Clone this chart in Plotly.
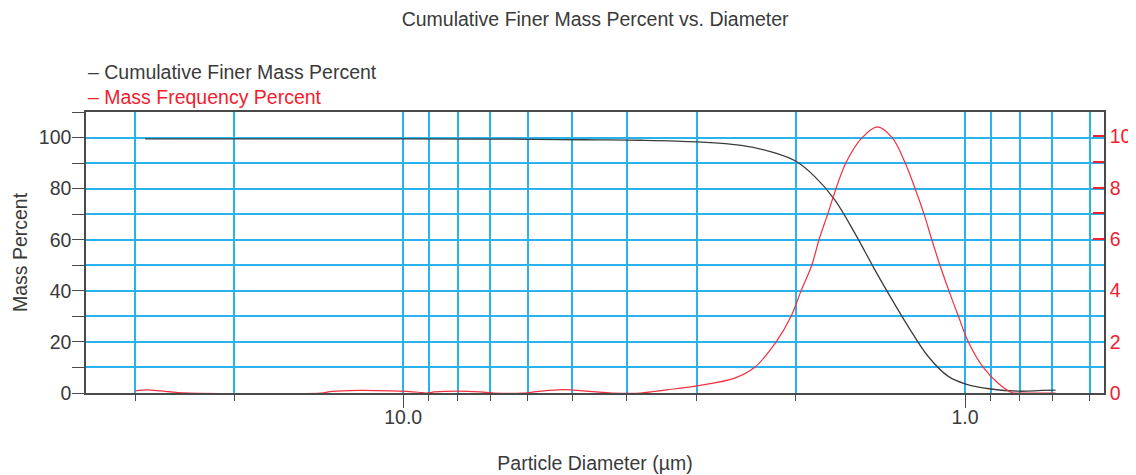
import plotly.graph_objects as go

# ---- data ----
cum_d = [28.8, 20.0, 10.0, 7.0, 5.3, 4.5, 3.78, 3.0, 2.5, 2.18, 2.0, 1.853, 1.707,
         1.572, 1.448, 1.371, 1.263, 1.163, 1.071, 1.0, 0.9, 0.8, 0.73, 0.69]
cum_pct = [99.5, 99.5, 99.5, 99.4, 99.2, 99.1, 98.95, 98.3, 96.9, 94.0, 90.7, 84.8, 75.7,
           62.7, 48.3, 39.2, 26.1, 14.3, 6.5, 3.6, 1.57, 0.7, 1.0, 1.1]

freq_d = [30.0, 28.5, 27.0, 25.2, 24.0, 14.0, 13.5, 12.0, 10.5, 9.4, 9.1, 8.8, 8.0, 7.3,
          6.9, 6.1, 5.8, 5.2, 4.6, 4.25, 3.78, 3.4, 3.0, 2.57, 2.371, 2.169, 2.039, 1.957,
          1.873, 1.818, 1.754, 1.695, 1.627, 1.525, 1.432, 1.348, 1.28, 1.229, 1.184,
          1.147, 1.109, 1.069, 1.028, 0.987, 0.928, 0.87, 0.826, 0.8, 0.75, 0.69]
freq_pct = [0.08, 0.12, 0.08, 0.02, 0.0, 0.0, 0.05, 0.1, 0.08, 0.03, 0.0, 0.04, 0.07, 0.04,
            0.0, 0.0, 0.05, 0.13, 0.05, 0.0, 0.0, 0.12, 0.28, 0.58, 0.99, 1.99, 3.0, 4.0,
            5.0, 6.0, 7.0, 8.0, 9.0, 9.95, 10.37, 9.95, 9.0, 8.0, 7.0,
            6.0, 5.0, 4.0, 3.0, 2.0, 1.0, 0.35, 0.02, 0.0, 0.0, 0.0]

x_major = [10, 1]
x_major_text = ["10.0", "1.0"]
x_minor = [30, 20, 9, 8, 7, 6, 5, 4, 3, 2, 0.9, 0.8, 0.7, 0.6]

y_ticks = [0, 10, 20, 30, 40, 50, 60, 70, 80, 90, 100, 110]
y_tick_text = ["0", "", "20", "", "40", "", "60", "", "80", "", "100", ""]

y2_ticks = [0, 2, 4, 6, 8, 10]
y2_minor = [6, 7, 8, 9, 10]

title_text = "Cumulative Finer Mass Percent vs. Diameter"
name_cum = "Cumulative Finer Mass Percent"
name_freq = "Mass Frequency Percent"

FONT = "Liberation Sans, Arial, Helvetica, sans-serif"
FS = 19.5
TXT = "#3a3a3a"
RED = "#f2202e"
GRID = "#29b3ee"
AX = "#4a4a4a"

fig = go.Figure()
fig.add_trace(go.Scatter(x=cum_d, y=cum_pct, mode="lines", name=name_cum,
                         line=dict(color="#3c3c3c", width=1.3, shape="spline", smoothing=1.0),
                         showlegend=False))
fig.add_trace(go.Scatter(x=freq_d, y=freq_pct, mode="lines", name=name_freq, yaxis="y2",
                         line=dict(color="#f03040", width=1.2, shape="spline", smoothing=1.0),
                         showlegend=False))

# the page body adds an 8px offset; size the figure so the plot lands where the reference has it
fig.update_layout(
    width=1128, height=467,
    margin=dict(l=78, r=32, t=104, b=82),
    paper_bgcolor="white", plot_bgcolor="white",
    font=dict(family=FONT, size=FS, color=TXT),
    title=dict(text=title_text, x=0.5205, xanchor="center", y=0.9765, yanchor="middle",
               font=dict(family=FONT, size=FS, color=TXT)),
    xaxis=dict(
        type="log", range=[1.5646, -0.2473], automargin=False,
        tickmode="array", tickvals=x_major, ticktext=x_major_text,
        ticks="outside", ticklen=13, tickwidth=1.3, tickcolor=AX,
        ticklabelstandoff=-7,
        showgrid=True, gridcolor=GRID, gridwidth=1.6,
        minor=dict(tickmode="array", tickvals=x_minor, ticks="outside", ticklen=6,
                   tickwidth=1.3, tickcolor=AX, showgrid=True, gridcolor=GRID, gridwidth=1.6),
        showline=True, linecolor=AX, linewidth=1.5, mirror=True,
        zeroline=False,
        tickfont=dict(size=FS, color=TXT),
        title=dict(text="Particle Diameter (µm)", standoff=29, font=dict(size=FS, color=TXT)),
    ),
    yaxis=dict(
        range=[0, 110], automargin=False, tickmode="array", tickvals=y_ticks, ticktext=y_tick_text,
        ticks="outside", ticklen=12, tickwidth=1.3, tickcolor=AX,
        ticklabelstandoff=-3,
        showgrid=True, gridcolor=GRID, gridwidth=1.6,
        showline=True, linecolor=AX, linewidth=1.5,
        zeroline=False,
        tickfont=dict(size=FS, color=TXT),
        title=dict(text="Mass Percent", standoff=6, font=dict(size=FS, color=TXT)),
    ),
    yaxis2=dict(
        overlaying="y", side="right", range=[0, 10.95], automargin=False,
        tickmode="array", tickvals=y2_ticks, ticks="",
        minor=dict(tickmode="array", tickvals=y2_minor, ticks="inside", ticklen=11,
                   tickwidth=1.5, tickcolor=RED, showgrid=False),
        showgrid=False, zeroline=False,
        showline=True, linecolor=AX, linewidth=1.5,
        tickfont=dict(size=FS, color=RED),
    ),
    annotations=[
        dict(text="– " + name_cum, xref="paper", yref="paper", x=0.0, y=1.142,
             xanchor="left", yanchor="middle", showarrow=False,
             font=dict(family=FONT, size=FS, color=TXT)),
        dict(text="– " + name_freq, xref="paper", yref="paper", x=0.0, y=1.053,
             xanchor="left", yanchor="middle", showarrow=False,
             font=dict(family=FONT, size=FS, color=RED)),
    ],
)

fig.write_html("out.html")
